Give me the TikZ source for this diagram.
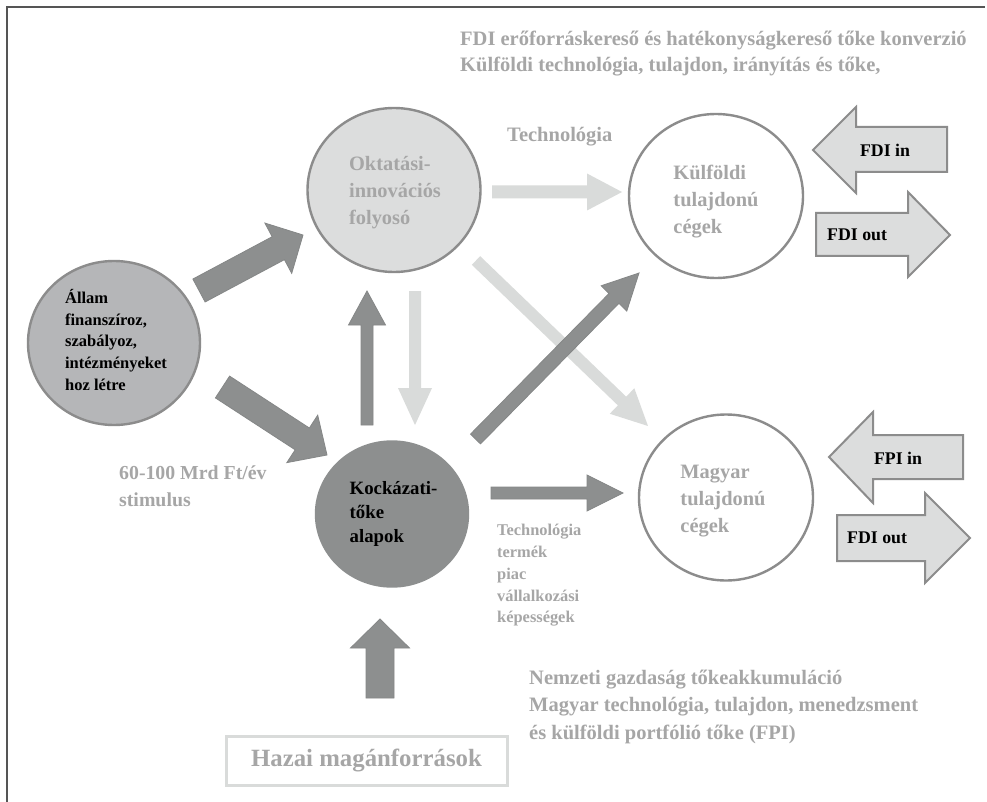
\documentclass[tikz,border=0pt]{standalone}
\usepackage{fontspec}
\setmainfont{Liberation Serif}
\usetikzlibrary{shapes.geometric,calc}
\definecolor{dk}{HTML}{8D8F8F}
\definecolor{dkb}{HTML}{858787}
\definecolor{lt}{HTML}{D9DBDA}
\definecolor{txg}{HTML}{A6A6A6}
\definecolor{circb}{HTML}{8C8C8C}
\definecolor{stf}{HTML}{B5B6B8}
\definecolor{okf}{HTML}{DCDDDD}
\definecolor{framec}{HTML}{555555}
\newcommand\fsz[2]{\fontsize{#1}{#2}\selectfont}
% block arrow: style, tail coord, tip coord, half shaft, half head, head length
\newcommand\barrow[6]{%
  \path let \p1=($(#3)-(#2)$) in \pgfextra{%
    \pgfmathparse{atan2(\y1,\x1)}\xdef\barang{\pgfmathresult}%
    \pgfmathparse{veclen(\x1,\y1)}\xdef\barlen{\pgfmathresult}};
  \begin{scope}[shift={(#2)},rotate=\barang,x=1pt,y=1pt]
    \path[#1] (0,-#4) -- (\barlen-#6,-#4) -- (\barlen-#6,-#5) -- (\barlen,0)
      -- (\barlen-#6,#5) -- (\barlen-#6,#4) -- (0,#4) -- cycle;
  \end{scope}}
\tikzset{
  circ/.style={ellipse, draw=circb, line width=2.4pt, inner sep=0pt},
  ctxt/.style={align=left, inner sep=0pt},
  darr/.style={fill=dk, draw=dkb, line width=0.8pt, line join=miter},
  larr/.style={fill=lt},
  fdiarr/.style={fill=okf, draw=circb, line width=2pt, line join=miter},
  gtxt/.style={text=txg, align=left, inner sep=0pt, anchor=west},
  btxt/.style={text=black, font=\bfseries\fsz{17.8}{21}, inner sep=0pt},
}
\begin{document}
\begin{tikzpicture}[x=1pt,y=-1pt]
\useasboundingbox (0,0) rectangle (987,802);
\fill[white] (0,0) rectangle (987,802);
\draw[framec, line width=2pt] (7,802) -- (7,7) -- (985,7);

% circles
\node[circ, fill=stf, minimum width=172pt, minimum height=164pt] (allam) at (114,343) {};
\node[circ, fill=okf, minimum width=173pt, minimum height=164pt] (okt) at (394,190) {};
\node[circ, fill=dk, draw=dk, minimum width=152pt, minimum height=145pt] (kock) at (392,514) {};
\node[circ, fill=white, minimum width=174pt, minimum height=164pt] (kulf) at (716,196) {};
\node[circ, fill=white, minimum width=174pt, minimum height=166pt] (magy) at (726,497.5) {};

% circle texts
\node[ctxt, text=black, font=\bfseries\fsz{16.5}{21.9}] (allamt) at (116,340)
  {Állam\\finanszíroz,\\szabályoz,\\intézményeket\\hoz létre};
\node[ctxt, text=txg, font=\bfseries\fsz{20.4}{27}] (oktt) at (395,193)
  {Oktatási-\\innovációs\\folyosó};
\node[ctxt, text=black, font=\bfseries\fsz{18.8}{24}] (kockt) at (393.5,514)
  {Kockázati-\\tőke\\alapok};
\node[ctxt, text=txg, font=\bfseries\fsz{20.4}{27}] (kulft) at (716,201.5)
  {Külföldi\\tulajdonú\\cégek};
\node[ctxt, text=txg, font=\bfseries\fsz{20.4}{27}] (magyt) at (723,501.5)
  {Magyar\\tulajdonú\\cégek};

% arrow end points
\coordinate (a1t) at (199,290.5); \coordinate (a1h) at (303,235);
\coordinate (a2t) at (222.5,387); \coordinate (a2h) at (327,455);
\coordinate (a3t) at (367,425);   \coordinate (a3h) at (367,291);
\coordinate (a4t) at (415,291);   \coordinate (a4h) at (415,425);
\coordinate (a5t) at (492,192);   \coordinate (a5h) at (622,192);
\coordinate (a6t) at (476,260.5); \coordinate (a6h) at (648,426);
\coordinate (a7t) at (475.5,439); \coordinate (a7h) at (639,273);
\coordinate (a8t) at (491,493);   \coordinate (a8h) at (623,493);
\coordinate (a9t) at (380,698);   \coordinate (a9h) at (380,619);

\barrow{darr}{a1t}{a1h}{13}{28.5}{28}
\barrow{darr}{a2t}{a2h}{13}{28.3}{29.5}
\barrow{darr}{a3t}{a3h}{6}{18.5}{34}
\barrow{larr}{a4t}{a4h}{6}{17}{37}
\barrow{larr}{a5t}{a5h}{6.5}{18.5}{35}
\barrow{larr}{a6t}{a6h}{6}{17.7}{36}
\barrow{darr}{a7t}{a7h}{7}{18}{35.7}
\barrow{darr}{a8t}{a8h}{6}{18}{36}
\barrow{darr}{a9t}{a9h}{14}{29.5}{29}

% FDI / FPI block arrows
\draw[fdiarr] (813,150) -- (856,107) -- (856,127) -- (947,127) -- (947,172) -- (856,172) -- (856,193) -- cycle;
\node[btxt] (fdiin) at (885,150) {FDI in};
\draw[fdiarr] (816,213) -- (908,213) -- (908,192) -- (950,235) -- (908,277) -- (908,256) -- (816,256) -- cycle;
\node[btxt, anchor=west] (fdiout1) at (827,235) {FDI out};
\draw[fdiarr] (829,457) -- (873,412) -- (873,435) -- (963,435) -- (963,479) -- (873,479) -- (873,503) -- cycle;
\node[btxt] (fpiin) at (898,458) {FPI in};
\draw[fdiarr] (837,515) -- (925,515) -- (925,493) -- (970,538) -- (925,583) -- (925,561) -- (837,561) -- cycle;
\node[btxt, anchor=west] (fdiout2) at (847,538) {FDI out};

% texts
\node[gtxt, font=\bfseries\fsz{20.5}{26.5}] (top) at (460,53.5) {FDI erőforráskereső és hatékonyságkereső tőke konverzió\\Külföldi technológia, tulajdon, irányítás és tőke,};
\node[gtxt, font=\bfseries\fsz{20.5}{24}] (tech) at (507,137) {Technológia};
\node[gtxt, font=\bfseries\fsz{19.8}{27}] (stim) at (119,486.5) {60-100 Mrd Ft/év\\stimulus};
\node[gtxt, font=\bfseries\fsz{16.4}{21.75}] (list) at (497,575.5) {Technológia\\termék\\piac\\vállalkozási\\képességek};
\node[gtxt, font=\bfseries\fsz{20.5}{27.5}] (nemz) at (529,706.5) {Nemzeti gazdaság tőkeakkumuláció\\Magyar technológia, tulajdon, menedzsment\\és külföldi portfólió tőke (FPI)};
\node[draw=lt, line width=3pt, minimum width=281pt, minimum height=49pt, inner sep=0pt,
      text=txg, font=\bfseries\fsz{24.8}{28}] (hazai) at (366.5,760.5) {Hazai magánforrások};
\end{tikzpicture}
\end{document}
